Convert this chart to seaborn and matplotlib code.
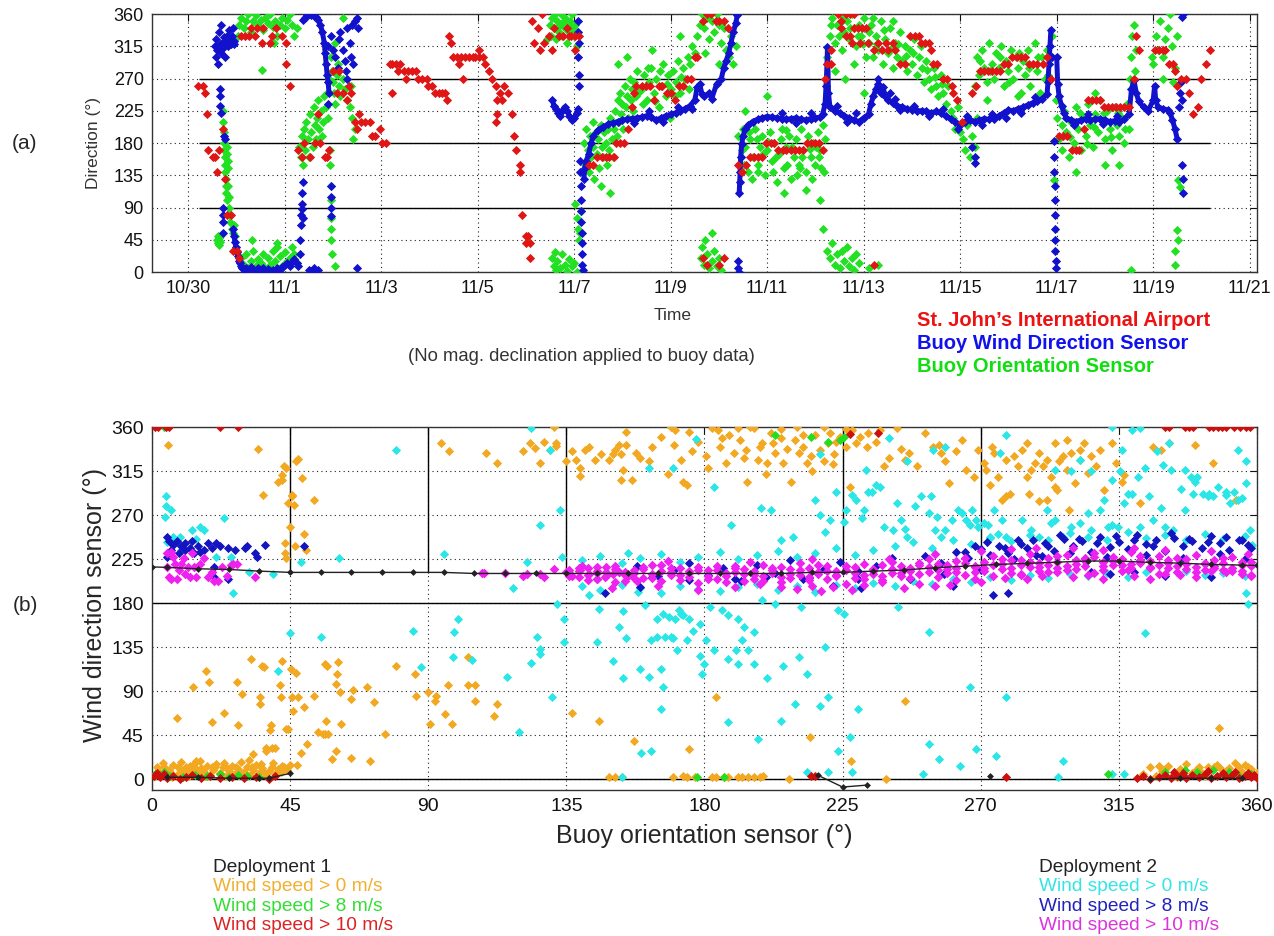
import matplotlib
matplotlib.use("Agg")
import matplotlib.pyplot as plt
import pandas as pd
import seaborn as sns

sns.set_style("white")
plt.rcParams["font.family"] = ["Liberation Sans", "DejaVu Sans"]

# ---------------- panel (a): direction time series, x = days since 10/30 ----------------
day_ticks = [0, 2, 4, 6, 8, 10, 12, 14, 16, 18, 20, 22]
day_labels = ["10/30", "11/1", "11/3", "11/5", "11/7", "11/9", "11/11", "11/13",
              "11/15", "11/17", "11/19", "11/21"]
dir_ticks = [0, 45, 90, 135, 180, 225, 270, 315, 360]

# buoy wind direction sensor, continuous runs
buoy_runs = [
    [(0.93, 60), (0.95, 50), (0.97, 42), (0.99, 35), (1.01, 28), (1.03, 22), (1.05, 15), (1.07, 12),
     (1.09, 8), (1.12, 5), (1.15, 4), (1.2, 6), (1.25, 3), (1.3, 7), (1.35, 4), (1.4, 2), (1.45, 5),
     (1.5, 3), (1.55, 6), (1.6, 2), (1.65, 4), (1.7, 1), (1.75, 3), (1.8, 2), (1.85, 5), (1.9, 3),
     (1.95, 7), (2.0, 10), (2.05, 12), (2.1, 9), (2.15, 14), (2.2, 18), (2.25, 12), (2.28, 8)],
    [(2.38, 352), (2.42, 355), (2.46, 358), (2.5, 360), (2.55, 359), (2.6, 357), (2.65, 356),
     (2.7, 352), (2.74, 345), (2.78, 335), (2.82, 320), (2.84, 305), (2.86, 290), (2.88, 275),
     (2.9, 265), (2.92, 250)],
    [(7.55, 240), (7.58, 232), (7.62, 228), (7.66, 222), (7.7, 218), (7.75, 225), (7.8, 230),
     (7.85, 225), (7.9, 218), (7.95, 212), (8.0, 215), (8.05, 222), (8.08, 228)],
    [(8.2, 130), (8.22, 145), (8.25, 155), (8.3, 165), (8.35, 180), (8.4, 190), (8.5, 198),
     (8.6, 203), (8.7, 206), (8.8, 208), (8.9, 210), (9.0, 212), (9.1, 213), (9.2, 214), (9.3, 215),
     (9.4, 216), (9.5, 218), (9.6, 216), (9.7, 212), (9.8, 215), (9.9, 218), (10.0, 220),
     (10.1, 222), (10.2, 225), (10.3, 228), (10.4, 232), (10.5, 240), (10.55, 258), (10.6, 262),
     (10.65, 248), (10.7, 245), (10.8, 250), (10.85, 242), (10.95, 262), (11.05, 270), (11.1, 285),
     (11.15, 295), (11.2, 305), (11.25, 320), (11.3, 335), (11.35, 348), (11.38, 358)],
    [(11.42, 110), (11.43, 125), (11.44, 140), (11.45, 160), (11.47, 178), (11.5, 190),
     (11.55, 200), (11.6, 205), (11.7, 210), (11.8, 213), (11.9, 215), (12.0, 217), (12.1, 216),
     (12.2, 215), (12.3, 214), (12.4, 213), (12.5, 214), (12.6, 215), (12.7, 213), (12.8, 212),
     (12.9, 214), (13.0, 215), (13.1, 216), (13.15, 220), (13.2, 235), (13.22, 260), (13.24, 290),
     (13.25, 314), (13.27, 250), (13.3, 230), (13.4, 225), (13.5, 222), (13.6, 218), (13.7, 215),
     (13.8, 212), (13.9, 210), (14.0, 215), (14.1, 220), (14.15, 235), (14.2, 245), (14.25, 255),
     (14.3, 262), (14.35, 250), (14.4, 258), (14.45, 245), (14.5, 240), (14.6, 236), (14.7, 232),
     (14.8, 230), (14.9, 228), (15.0, 226), (15.1, 225), (15.2, 225), (15.3, 224), (15.4, 222),
     (15.5, 224), (15.6, 222), (15.7, 218), (15.8, 214), (15.9, 210), (16.0, 205), (16.1, 210),
     (16.2, 212), (16.3, 210), (16.4, 212), (16.5, 214), (16.6, 213), (16.7, 214), (16.8, 218),
     (16.9, 222), (17.0, 226), (17.1, 225), (17.2, 228), (17.3, 230), (17.4, 233), (17.5, 236),
     (17.6, 238), (17.7, 242), (17.8, 248), (17.82, 265), (17.84, 290), (17.86, 315), (17.88, 338)],
    [(18.0, 300), (18.02, 263), (18.05, 245), (18.1, 232), (18.15, 222), (18.2, 215), (18.3, 212),
     (18.4, 210), (18.5, 212), (18.6, 214), (18.7, 212), (18.8, 213), (18.9, 214), (19.0, 212),
     (19.1, 210), (19.2, 211), (19.3, 210), (19.4, 213), (19.5, 220), (19.55, 255), (19.6, 268),
     (19.65, 250), (19.7, 238), (19.8, 230), (19.9, 225), (20.0, 240), (20.03, 260), (20.05, 240),
     (20.1, 230), (20.2, 228), (20.3, 226), (20.35, 222), (20.4, 212), (20.45, 200), (20.5, 185)],
]

# buoy wind direction sensor, isolated and noisy samples
buoy_points = [
    (0.55, 315), (0.57, 300), (0.58, 325), (0.60, 310), (0.62, 290), (0.63, 335), (0.65, 318),
    (0.67, 305), (0.68, 345), (0.70, 320), (0.72, 312), (0.74, 328), (0.76, 300), (0.78, 322),
    (0.80, 330), (0.82, 315), (0.84, 338), (0.86, 325), (0.88, 318), (0.90, 330), (0.92, 340),
    (0.94, 322), (0.96, 318), (0.66, 255), (0.66, 245), (0.65, 232), (0.67, 222), (0.72, 90),
    (0.72, 80), (0.73, 70), (0.73, 55), (0.75, 190), (0.76, 185),
    (2.31, 25), (2.32, 45), (2.33, 65), (2.34, 80), (2.35, 95), (2.36, 110), (2.37, 125),
    (2.36, 88), (2.38, 75), (2.5, 3), (2.55, 2), (2.6, 5), (2.65, 1), (2.7, 3), (2.9, 235),
    (2.95, 120), (2.95, 105), (2.96, 90), (2.96, 78),
    (2.9, 315), (2.95, 330), (3.0, 310), (3.05, 300), (3.1, 285), (3.12, 325), (3.15, 335),
    (3.2, 310), (3.25, 295), (3.28, 280), (3.3, 340), (3.35, 320), (3.4, 345), (3.45, 350),
    (3.5, 355), (3.52, 340), (3.38, 300), (3.42, 290), (3.3, 270), (3.5, 5),
    (8.07, 350), (8.08, 335), (8.09, 320), (8.08, 300), (8.1, 275), (8.1, 260), (8.12, 155),
    (8.13, 140), (8.14, 120), (8.14, 100), (8.15, 85), (8.15, 70), (8.16, 55), (8.16, 40),
    (8.17, 25), (8.17, 10), (8.18, 3),
    (11.4, 15), (11.4, 5), (11.41, 0), (16.25, 175), (16.3, 160), (16.3, 152),
    (17.9, 300), (17.95, 183), (17.95, 160), (17.95, 140), (17.96, 120), (17.96, 100),
    (17.96, 80), (17.97, 60), (17.97, 45), (17.97, 30), (17.98, 15), (17.98, 5),
    (20.53, 230), (20.55, 250), (20.57, 265), (20.6, 240), (20.6, 150), (20.61, 130),
    (20.62, 110), (20.6, 356), (20.61, 360),
    (12.3, 222), (12.6, 208), (12.9, 222), (13.45, 232), (13.65, 210), (13.85, 222),
    (14.3, 270), (14.4, 248), (14.55, 250), (14.65, 242), (14.75, 226), (15.05, 232),
    (15.35, 218), (15.65, 228), (15.95, 200), (16.15, 218), (16.45, 205), (16.65, 220),
    (16.95, 215), (17.25, 222), (17.55, 244), (18.35, 205), (18.65, 220), (18.95, 206),
    (19.25, 218), (9.25, 208), (9.55, 224), (9.85, 210), (10.15, 230), (10.45, 228),
]

# buoy orientation sensor
orientation_points = [
    (0.6, 45), (0.61, 40), (0.62, 50), (0.63, 38), (0.64, 48), (0.66, 42), (0.68, 52),
    (0.72, 225), (0.73, 210), (0.74, 195), (0.74, 180), (0.75, 170), (0.76, 160), (0.76, 150),
    (0.77, 140), (0.78, 130), (0.78, 120), (0.79, 110), (0.8, 100), (0.8, 175), (0.81, 165),
    (0.82, 155), (0.82, 145), (0.83, 120), (0.84, 105), (0.85, 90), (0.86, 80), (0.87, 70),
    (0.9, 60), (0.92, 55), (0.95, 65), (0.98, 50),
    (1.1, 20), (1.15, 10), (1.2, 25), (1.25, 5), (1.3, 15), (1.35, 30), (1.4, 8), (1.45, 18),
    (1.5, 12), (1.55, 25), (1.6, 5), (1.65, 20), (1.7, 10), (1.75, 30), (1.8, 15), (1.85, 35),
    (1.9, 22), (1.95, 8), (2.0, 28), (2.05, 15), (2.1, 20), (2.15, 35), (2.2, 25), (2.25, 12),
    (1.33, 45), (1.85, 40),
    (1.05, 345), (1.1, 355), (1.15, 340), (1.2, 350), (1.25, 360), (1.3, 335), (1.35, 350),
    (1.4, 358), (1.45, 345), (1.5, 352), (1.55, 338), (1.6, 355), (1.65, 348), (1.7, 360),
    (1.75, 342), (1.8, 350), (1.85, 330), (1.9, 345), (1.95, 355), (2.0, 340), (2.05, 352),
    (2.1, 360), (2.15, 345), (2.2, 330), (2.25, 340), (1.78, 320), (1.03, 330), (1.52, 282),
    (2.3, 175), (2.33, 160), (2.35, 190), (2.38, 150), (2.4, 200), (2.42, 170), (2.45, 210),
    (2.48, 185), (2.5, 160), (2.52, 220), (2.55, 195), (2.58, 175), (2.6, 230), (2.62, 205),
    (2.65, 185), (2.68, 215), (2.7, 240), (2.72, 200), (2.75, 225), (2.78, 190), (2.8, 210),
    (2.82, 245), (2.85, 230), (2.88, 250), (2.9, 215), (2.92, 270),
    (2.95, 300), (2.98, 280), (3.0, 265), (3.02, 250), (3.05, 235), (3.08, 275), (3.1, 290),
    (3.12, 260), (3.15, 245), (3.2, 270), (3.25, 255), (3.3, 240), (3.35, 230), (3.4, 215),
    (3.45, 200), (3.42, 185), (3.38, 260), (3.2, 355), (3.05, 320),
    (2.93, 170), (2.94, 150), (2.95, 120), (2.95, 100), (2.96, 75), (2.96, 60), (2.97, 45),
    (2.98, 25), (3.05, 8),
    (7.5, 345), (7.52, 330), (7.55, 355), (7.58, 340), (7.6, 360), (7.62, 325), (7.65, 350),
    (7.68, 335), (7.7, 345), (7.72, 360), (7.75, 330), (7.78, 350), (7.8, 340), (7.82, 355),
    (7.85, 320), (7.88, 345), (7.9, 335), (7.92, 350), (7.95, 360), (7.98, 340), (8.0, 330),
    (8.02, 345), (8.05, 315), (7.43, 325),
    (7.55, 20), (7.58, 8), (7.6, 28), (7.62, 3), (7.65, 15), (7.7, 5), (7.75, 25), (7.8, 10),
    (7.85, 2), (7.9, 18), (7.95, 8), (8.0, 12), (8.05, 0),
    (8.02, 95), (8.05, 75), (8.08, 60), (8.1, 45), (8.12, 55), (8.15, 85),
    (8.2, 180), (8.22, 150), (8.25, 200), (8.28, 170), (8.3, 140), (8.32, 190), (8.35, 160),
    (8.38, 210), (8.4, 175), (8.42, 130), (8.45, 195), (8.48, 165), (8.5, 185), (8.52, 145),
    (8.55, 205), (8.58, 175), (8.6, 160), (8.62, 195), (8.65, 180), (8.68, 150), (8.7, 200),
    (8.72, 170), (8.75, 215), (8.78, 185), (8.8, 160), (8.82, 200), (8.85, 225), (8.88, 190),
    (8.9, 240), (8.92, 210), (8.95, 250), (8.98, 220), (9.0, 235), (9.02, 200), (9.05, 260),
    (9.08, 230), (9.1, 245), (9.12, 215), (9.15, 270), (9.18, 240), (9.2, 255), (9.22, 225),
    (9.25, 265), (9.28, 245), (9.3, 280), (9.32, 250), (8.55, 120), (8.9, 290), (8.75, 110),
    (9.1, 300),
    (9.4, 255), (9.45, 275), (9.5, 240), (9.55, 265), (9.6, 285), (9.65, 250), (9.7, 270),
    (9.75, 230), (9.8, 260), (9.85, 290), (9.9, 245), (9.95, 275), (10.0, 255), (10.05, 280),
    (10.1, 265), (10.15, 295), (10.2, 250), (10.25, 285), (10.3, 270), (10.35, 300), (10.4, 290),
    (10.45, 315), (10.5, 305), (9.62, 310), (9.98, 215), (10.2, 330),
    (9.42, 235), (9.52, 285), (9.68, 238), (9.78, 280), (9.92, 262), (10.08, 245), (10.22, 272),
    (10.38, 255),
    (10.55, 330), (10.6, 345), (10.65, 360), (10.7, 340), (10.75, 355), (10.8, 325), (10.85, 350),
    (10.9, 335), (10.95, 360), (11.0, 345), (11.05, 320), (11.1, 340), (11.15, 310), (11.2, 300),
    (11.25, 330), (11.3, 290), (11.35, 315), (10.72, 305), (11.0, 290),
    (10.62, 20), (10.65, 35), (10.7, 10), (10.72, 45), (10.75, 25), (10.8, 5), (10.85, 15),
    (10.9, 30), (10.95, 8), (11.0, 20), (11.05, 3), (10.85, 55),
    (11.4, 190), (11.45, 160), (11.5, 200), (11.55, 175), (11.6, 140), (11.65, 185), (11.7, 160),
    (11.75, 200), (11.8, 150), (11.85, 175), (11.9, 190), (11.95, 135), (12.0, 170), (12.05, 195),
    (12.1, 155), (12.15, 180), (12.2, 125), (12.25, 165), (12.3, 200), (12.35, 145), (12.4, 175),
    (12.45, 190), (12.5, 130), (12.55, 160), (12.6, 185), (12.65, 150), (12.7, 200), (12.75, 170),
    (12.8, 140), (12.85, 190), (12.9, 160), (12.95, 180), (13.0, 150), (13.05, 195), (13.1, 170),
    (13.15, 205), (13.2, 185), (11.55, 225), (12.0, 245), (12.8, 115), (12.35, 110), (13.1, 100),
    (11.52, 150), (11.68, 130), (11.92, 165), (12.12, 140), (12.42, 150), (12.62, 135),
    (12.92, 130), (13.12, 145), (11.78, 185), (12.28, 185), (12.72, 160), (13.02, 175),
    (11.48, 170), (11.62, 195), (11.82, 140), (12.02, 182), (12.18, 160), (12.38, 198),
    (12.52, 175), (12.68, 145), (12.88, 172), (13.08, 160), (13.18, 140),
    (13.25, 300), (13.3, 330), (13.35, 355), (13.4, 320), (13.45, 345), (13.5, 360), (13.55, 310),
    (13.6, 335), (13.65, 350), (13.7, 325), (13.75, 360), (13.8, 340), (13.85, 315), (13.9, 345),
    (13.95, 330), (14.0, 355), (14.05, 300), (13.4, 280), (13.8, 290), (13.62, 270),
    (13.32, 345), (13.48, 330), (13.58, 352), (13.72, 340), (13.88, 330), (13.98, 318),
    (13.3, 20), (13.35, 40), (13.4, 10), (13.45, 25), (13.5, 5), (13.55, 30), (13.6, 15),
    (13.65, 35), (13.7, 8), (13.75, 20), (13.8, 3), (13.85, 25), (13.9, 12), (14.1, 5),
    (14.3, 10), (13.15, 60), (13.25, 30),
    (14.1, 320), (14.15, 345), (14.2, 300), (14.25, 330), (14.3, 310), (14.35, 350), (14.4, 290),
    (14.45, 325), (14.5, 305), (14.55, 340), (14.6, 285), (14.65, 320), (14.7, 300), (14.75, 335),
    (14.8, 295), (14.85, 315), (14.9, 280), (14.95, 310), (15.0, 290), (15.05, 325), (15.1, 275),
    (15.15, 300), (15.2, 285), (15.25, 265), (15.3, 295), (15.35, 270), (15.4, 255), (15.45, 285),
    (15.5, 260), (15.55, 245), (15.6, 275), (15.65, 250), (15.7, 235), (15.75, 260), (15.8, 225),
    (14.2, 355), (14.6, 350), (14.0, 250),
    (14.12, 335), (14.28, 318), (14.42, 338), (14.58, 312), (14.72, 318), (14.88, 302),
    (15.02, 305), (15.18, 315), (15.32, 282), (15.48, 272), (15.62, 262),
    (15.85, 215), (15.9, 200), (15.95, 230), (16.0, 195), (16.05, 185), (16.1, 170),
    (16.15, 205), (16.2, 160), (16.25, 190), (16.3, 175), (16.35, 215),
    (16.3, 260), (16.35, 300), (16.4, 275), (16.45, 310), (16.5, 285), (16.55, 265), (16.6, 320),
    (16.65, 290), (16.7, 270), (16.75, 305), (16.8, 285), (16.85, 315), (16.9, 260), (16.95, 295),
    (17.0, 280), (17.05, 310), (17.1, 270), (17.15, 300), (17.2, 285), (17.25, 250), (17.3, 295),
    (17.35, 275), (17.4, 310), (17.45, 260), (17.5, 290), (17.55, 320), (17.6, 280), (17.65, 250),
    (17.7, 300), (17.75, 270), (17.8, 310), (17.85, 290), (17.9, 330), (16.55, 240), (17.2, 245),
    (16.42, 295), (16.62, 280), (16.82, 300), (17.02, 265), (17.22, 305), (17.42, 285),
    (17.62, 300), (17.82, 275),
    (17.98, 240), (18.0, 215), (18.05, 185), (18.1, 170), (18.15, 225), (18.2, 195), (18.25, 160),
    (18.3, 210), (18.35, 180), (18.4, 230), (18.45, 200), (18.5, 170), (18.55, 215), (18.6, 190),
    (18.65, 235), (18.7, 205), (18.75, 175), (18.8, 220), (18.85, 195), (18.9, 240), (18.95, 210),
    (19.0, 185), (19.05, 225), (19.1, 200), (19.15, 170), (19.2, 230), (19.25, 205), (19.3, 190),
    (19.35, 215), (19.4, 180), (19.45, 235), (19.5, 200), (18.4, 140), (17.95, 128), (19.3, 150),
    (18.8, 250), (19.0, 150),
    (18.12, 205), (18.28, 188), (18.48, 222), (18.62, 178), (18.78, 202), (18.98, 222),
    (19.12, 188), (19.28, 222), (19.42, 200),
    (19.52, 270), (19.55, 300), (19.57, 330), (19.6, 345), (19.62, 280), (19.65, 310), (19.55, 3),
    (20.0, 290), (20.05, 330), (20.1, 310), (20.15, 350), (20.2, 300), (20.25, 325), (20.3, 340),
    (20.35, 360), (20.4, 315), (20.45, 285), (20.5, 330), (20.2, 270), (20.42, 265), (19.97, 300),
    (20.52, 128), (20.55, 119), (20.5, 59), (20.52, 45), (20.45, 30), (20.45, 10),
]

# St. John's airport reports
airport_points = [
    (0.21, 260), (0.30, 260), (0.34, 250), (0.38, 220), (0.42, 170), (0.51, 160), (0.55, 160),
    (0.59, 140), (0.63, 170), (0.72, 200), (0.76, 130), (0.80, 80), (0.89, 80), (0.93, 30),
    (1.01, 30), (1.05, 20),
    (1.10, 330), (1.18, 330), (1.27, 330), (1.31, 340), (1.39, 330), (1.43, 340), (1.52, 320),
    (1.56, 340), (1.69, 320), (1.73, 330), (1.81, 340), (1.94, 330), (2.03, 320), (2.03, 290),
    (2.11, 260),
    (2.28, 170), (2.36, 160), (2.41, 180), (2.53, 160), (2.62, 180), (2.70, 220), (2.74, 180),
    (2.83, 160), (2.87, 160), (2.91, 170),
    (3.0, 280), (3.08, 250), (3.12, 280), (3.21, 250), (3.29, 240), (3.33, 260), (3.38, 250),
    (3.46, 210), (3.5, 200), (3.54, 220), (3.59, 210), (3.67, 210), (3.76, 210), (3.8, 190),
    (3.88, 190), (3.97, 200), (4.01, 180), (4.09, 180),
    (4.18, 290), (4.22, 290), (4.3, 290), (4.39, 290), (4.22, 250), (4.35, 280), (4.47, 280),
    (4.56, 280), (4.64, 280), (4.73, 280), (4.51, 270), (4.77, 270), (4.85, 270), (4.94, 270),
    (4.98, 260), (5.06, 260), (5.11, 250), (5.19, 250), (5.27, 250), (5.32, 250), (5.36, 240),
    (5.4, 330), (5.44, 320), (5.49, 300), (5.57, 300), (5.61, 290), (5.65, 300), (5.74, 300),
    (5.82, 300), (5.91, 300), (5.95, 300), (6.03, 300), (6.12, 300), (6.16, 290), (6.03, 310),
    (5.7, 270), (6.24, 280), (6.29, 270), (6.37, 260), (6.41, 240), (6.46, 250), (6.5, 240),
    (6.54, 260), (6.62, 250), (6.71, 220), (6.37, 210), (6.41, 220),
    (6.75, 190), (6.79, 170), (6.88, 150), (6.88, 140), (6.92, 80), (7.0, 50), (7.05, 50),
    (7.0, 40), (7.09, 40), (7.09, 20),
    (7.13, 350), (7.17, 320), (7.26, 340), (7.3, 310), (7.34, 360), (7.38, 320), (7.47, 330),
    (7.55, 310), (7.59, 340), (7.68, 330), (7.76, 330), (7.85, 340), (7.89, 330), (7.93, 330),
    (8.02, 330), (8.1, 330), (8.02, 310),
    (8.31, 150), (8.4, 150), (8.48, 160), (8.57, 160), (8.65, 160), (8.73, 160), (8.82, 160),
    (8.86, 180), (8.95, 180), (9.03, 180), (9.11, 200), (9.2, 230), (9.24, 250), (9.28, 260),
    (9.41, 260), (9.49, 260), (9.58, 260), (9.66, 240), (9.75, 260), (9.83, 260), (9.92, 250),
    (10.0, 250), (10.08, 240), (10.17, 260), (10.25, 260), (10.34, 270), (10.42, 270),
    (10.51, 300), (10.55, 300), (10.67, 350), (10.76, 360), (10.84, 360), (10.93, 350),
    (11.01, 350), (11.1, 350), (11.18, 340),
    (10.67, 20), (10.76, 10), (11.01, 10), (11.1, 20),
    (11.39, 150), (11.48, 140), (11.56, 150), (11.64, 160), (11.73, 160), (11.81, 160),
    (11.9, 160), (11.98, 180), (12.07, 180), (12.15, 180), (12.23, 170), (12.32, 170),
    (12.4, 170), (12.49, 170), (12.57, 170), (12.66, 170), (12.74, 170), (12.82, 180),
    (12.91, 180), (12.99, 180), (13.08, 180), (13.16, 170),
    (13.2, 270), (13.25, 290), (13.33, 290), (13.33, 310), (13.46, 360), (13.54, 350),
    (13.63, 360), (13.71, 360), (13.79, 360), (13.54, 340), (13.63, 330), (13.71, 330),
    (13.79, 340), (13.88, 340), (13.96, 340), (14.05, 340), (13.75, 320), (13.92, 320),
    (14.22, 10),
    (14.09, 320), (14.22, 310), (14.3, 320), (14.38, 310), (14.47, 320), (14.51, 310), (14.6, 320),
    (14.64, 310), (14.76, 290), (14.85, 290), (14.97, 330), (15.06, 330), (15.14, 330),
    (15.19, 320), (15.27, 320), (15.35, 320), (15.4, 310), (15.44, 290), (15.52, 290),
    (15.65, 270), (15.73, 270), (15.82, 260), (15.86, 250), (15.94, 240), (16.03, 210),
    (16.24, 250), (16.32, 260), (16.41, 280), (16.49, 280), (16.58, 280), (16.66, 280),
    (16.75, 280), (16.83, 280), (16.91, 290), (17.0, 290), (17.08, 300), (17.17, 300),
    (17.25, 300), (17.34, 300), (17.42, 290), (17.5, 290), (17.59, 290), (17.71, 290),
    (17.8, 300), (17.88, 270),
    (18.05, 190), (18.14, 190), (18.22, 190), (18.31, 170), (18.39, 170), (18.47, 170),
    (18.56, 200), (18.64, 240), (18.73, 240), (18.81, 240), (18.9, 240), (18.98, 230),
    (19.06, 230), (19.15, 230), (19.23, 230), (19.32, 230), (19.4, 230), (19.49, 230),
    (19.61, 270), (19.65, 330), (19.7, 310),
    (20.03, 310), (20.12, 310), (20.2, 310), (20.24, 310), (20.33, 290), (20.41, 290),
    (20.46, 280), (20.5, 260), (20.58, 270), (20.67, 270), (20.75, 250), (20.83, 220),
    (20.92, 230), (21.0, 270), (21.09, 290), (21.17, 310),
]

reference_levels = [90, 180, 270]

# ---------------- panel (b): wind direction vs orientation ----------------
orient_ticks = [0, 45, 90, 135, 180, 225, 270, 315, 360]

d1_all = [
    (1, 3), (2, 8), (3, 5), (4, 12), (5, 2), (6, 7), (7, 15), (8, 4), (9, 10), (10, 6), (11, 13),
    (12, 3), (13, 9), (14, 17), (15, 5), (16, 11), (17, 7), (18, 14), (19, 4), (20, 9), (21, 16),
    (22, 6), (23, 12), (24, 3), (25, 8), (26, 14), (27, 5), (28, 10), (29, 18), (30, 7), (31, 12),
    (32, 4), (33, 9), (34, 15), (35, 6), (36, 11), (37, 3), (38, 8), (39, 13), (40, 5), (41, 10),
    (42, 7), (43, 12), (44, 9), (1.5, 12), (3.5, 17), (6.5, 2), (9.5, 18), (12.5, 14), (15.5, 19),
    (19.5, 13), (23.5, 17), (27.5, 13), (31.5, 20), (35.5, 16), (2.5, 6), (5.5, 9), (8.5, 13),
    (11.5, 8), (14.5, 10), (17.5, 3), (20.5, 12), (24.5, 11), (28.5, 4), (32.5, 13), (36.5, 7),
    (39.5, 17), (42.5, 14), (45, 15), (33, 26), (37, 29),
    (8, 63), (13.3, 94), (14.3, 19), (17.6, 111), (18.5, 99), (19.6, 58), (23.3, 68), (27.6, 99),
    (27.9, 55), (29.2, 87), (32.4, 123), (35.1, 84), (35.1, 77), (35.9, 116), (36.4, 115),
    (38.3, 50), (38.7, 55), (37, 32), (39, 32), (40, 32), (41.7, 96), (42, 84), (42.3, 121),
    (43.6, 51), (44.4, 51), (45.2, 113), (45.7, 84), (46, 70), (46.9, 109), (47.3, 15), (47.6, 84),
    (48.7, 27), (49.6, 74), (50.5, 36), (52.9, 85), (56.3, 118), (57, 116), (56.3, 46),
    (56.7, 60), (57.5, 46), (58.8, 21), (59.9, 29), (59.9, 97), (60.3, 108), (60.7, 120),
    (61.3, 89), (61.7, 56), (65, 22), (65, 82), (65.5, 91), (69.9, 94), (70.9, 19), (72.3, 79),
    (75.9, 46), (79.6, 116), (86, 85), (85.6, 108), (90, 89), (90.7, 56), (92.3, 80), (92.6, 85),
    (95.6, 67), (96.5, 96), (97.6, 56), (102.9, 125), (102.9, 96), (105.3, 96), (105.3, 80),
    (111.3, 65), (112.4, 77), (137, 68), (145.6, 60), (55.6, 46), (54, 48),
    (36.3, 291), (42.3, 311), (42.9, 320), (43.6, 318), (41, 304), (42.3, 306), (44.3, 282),
    (45.6, 291), (45, 258), (46.9, 325), (47.6, 327), (48.9, 308), (49.6, 251), (52.9, 285),
    (45.7, 289), (46.3, 280), (43.2, 241), (43.2, 231), (43.6, 226), (34.7, 338), (5.3, 342),
    (50.3, 234), (46.5, 238),
    (94, 344), (96.9, 335), (108.9, 333), (112.3, 323), (121, 335), (123, 344), (124.9, 339),
    (126.3, 323), (127.6, 345), (129.6, 337), (130.9, 360), (131.6, 341), (131.6, 344), (135, 325),
    (137, 335), (138.3, 326), (139.6, 318), (139.6, 310), (141, 337), (142.3, 340), (144.3, 326),
    (146.3, 332), (148.9, 326), (150.3, 332), (150.9, 337), (152.3, 342), (152.9, 332),
    (153.6, 316), (154.3, 342), (152.9, 306), (156.3, 306), (154.3, 355), (157.6, 333), (159, 328),
    (161.9, 325), (169.1, 360), (170.5, 357), (172.5, 326), (173.1, 304), (174.4, 301),
    (180.4, 330), (182.4, 359), (184.4, 357), (185.7, 349), (187, 323), (189.7, 333), (191, 359),
    (191.6, 347), (193.6, 337), (193.9, 304), (196.3, 359), (197.6, 326), (198.9, 344),
    (200.3, 323), (201.6, 354), (202.2, 344), (202.9, 333), (204.9, 349), (205.5, 323),
    (208.2, 304), (209.5, 347), (210.8, 333), (212.2, 340), (213.5, 323), (214.8, 330),
    (216.1, 352), (217.5, 337), (218.8, 325), (220.1, 344), (220.8, 354), (222.1, 332),
    (224.1, 350), (226.1, 340), (227.4, 299), (228.1, 357), (229.4, 344), (230.7, 350),
    (233.3, 354), (237.3, 357), (238.6, 320), (242.6, 359), (243.9, 338), (245.3, 326),
    (246.6, 333), (249.2, 320), (251.9, 354), (254.5, 340), (256.5, 342), (257.2, 333),
    (258.5, 325), (259.8, 303), (261.8, 335), (263.8, 347), (265.1, 316), (267.8, 309),
    (269.1, 337), (271.1, 323), (271.7, 316), (273.1, 301), (274.4, 333), (275.7, 309), (277, 285),
    (278.3, 326), (279.7, 292), (281, 330), (282.3, 320), (283.6, 337), (285, 309), (286.3, 316),
    (287.6, 323), (289, 333), (290.3, 320), (291.6, 326), (292.9, 309), (294.2, 344),
    (294.9, 296), (295.6, 325), (296.9, 330), (298.2, 316), (299.5, 333), (300.8, 303),
    (302.2, 326), (303.5, 344), (304.8, 313), (306.1, 330), (307.5, 320), (308.8, 337),
    (310.1, 296), (312.8, 344), (314.1, 323), (316.1, 304), (316.7, 311), (322, 282), (326, 340),
    (328.6, 337), (331.3, 344), (339.9, 342), (345.8, 323), (353.1, 285), (285.6, 292),
    (294.2, 299), (288.9, 284), (278.3, 289), (298.9, 275), (291.6, 285), (273.7, 340),
    (285, 344), (298.2, 347), (302.2, 337),
    (175, 355), (178, 345), (188, 352), (195, 360), (198, 340), (205, 358), (212, 352), (219, 360),
    (223, 345), (210, 360), (185, 340), (166, 350), (170, 342), (193, 328), (200, 312), (207, 338),
    (215, 315), (222, 322), (233, 340), (226, 358), (236, 345), (240, 328), (181, 318), (176, 335),
    (163, 340), (168, 312),
    (169.8, 2), (173.1, 3), (174.4, 2), (177, 2), (182.3, 2), (183.6, 2), (186.3, 2), (187.6, 2),
    (190.9, 2), (192.3, 2), (194.2, 2), (196.1, 2), (198, 2), (199.2, 3), (207.6, 0), (239.3, 0),
    (149, 2), (151, 2), (153, 2), (157, 39), (175.1, 31), (183.7, 84), (214.5, 43), (227.6, 19),
    (245.5, 80), (347.8, 52),
    (323, 5), (325, 12), (327, 3), (329, 8), (331, 14), (333, 5), (335, 10), (337, 16), (339, 6),
    (341, 12), (343, 3), (345, 9), (347, 15), (349, 5), (351, 11), (353, 17), (355, 7), (357, 13),
    (359, 4), (328, 14), (334, 2), (340, 9), (346, 13), (352, 4), (358, 10), (336, 6), (344, 12),
    (350, 8), (356, 15), (330, 10), (342, 6), (348, 11), (354, 12), (360, 6),
]

d1_gt8 = [
    (1, 5), (3, 4), (4, 7), (6, 3), (10, 2), (14, 4), (18, 3), (22, 5), (25, 2), (28, 4), (31, 3),
    (35, 2), (4, 360), (202.9, 352), (214.8, 350), (224.1, 347), (225.4, 350), (220.1, 345),
    (186.4, 2), (177.7, 2), (311.4, 5), (330, 7), (336.6, 9), (340.6, 7), (345.8, 9), (351, 7),
    (353.6, 5), (358.2, 5),
]

d1_gt10 = [
    (0.5, 3), (1.5, 6), (2.5, 2), (4, 5), (5, 1), (7, 3), (9, 0), (11, 2), (13, 4), (16, 1),
    (19, 3), (22, 1), (26, 2), (30, 1), (34, 2), (38, 0), (40, 3),
    (1, 360), (2, 360), (4.5, 360), (5.5, 360), (22, 360), (28, 360), (227.4, 353), (236.6, 354),
    (214.8, 3), (216.1, 3), (278.3, 2),
    (321, 1), (323, 3), (325, 0), (328, 2), (330, 4), (332, 1), (334, 3), (336, 6), (337, 1),
    (339, 4), (341, 2), (343, 5), (345, 1), (347, 3), (349, 6), (350, 2), (352, 4), (354, 1),
    (356, 3), (357, 6), (358, 2), (359, 4), (360, 1), (333, 7), (344, 8), (353, 7),
    (330, 360), (331.3, 360), (336.6, 360), (338, 360), (339.2, 360), (344.5, 360), (345.8, 360),
    (347.2, 360), (348.5, 360), (349.8, 360), (352.5, 360), (354.5, 360), (356.4, 360),
    (357.8, 360),
]

d2_all = [
    (4.7, 289), (4.7, 279), (4.3, 268), (6.3, 275), (7, 248), (5, 242), (9, 248), (13, 255),
    (15.6, 258), (17, 255), (23.6, 267), (14.3, 246), (9.6, 234), (20.9, 227), (26.3, 190),
    (25.6, 227), (31.6, 212), (39.3, 210), (48.7, 222), (45, 149), (41, 111), (55, 145), (61, 226),
    (79.6, 337), (85, 151), (87.6, 115), (95, 230), (98.3, 150), (99.6, 164), (98, 125),
    (104.3, 122), (115.6, 104), (117.6, 195), (119.6, 48), (123.6, 119), (125.6, 145),
    (126.3, 128), (126.3, 133), (126.3, 260), (130.3, 84), (132, 179), (133, 275), (129.6, 337),
    (123.6, 359), (133.5, 227), (134.3, 164), (134.3, 140), (122.3, 222), (142.3, 188), (145, 140),
    (145.6, 174), (150.3, 121), (152.3, 156), (153.6, 103), (153.6, 172), (154.3, 144), (155, 231),
    (158.3, 191), (159, 113), (159.3, 27), (153, 2),
    (160.5, 178), (164.5, 164), (166.5, 169), (168.5, 166), (169.1, 145), (170.5, 164),
    (171.8, 173), (172.5, 169), (173.1, 168), (175.1, 164), (178.4, 159), (164.5, 145),
    (167.2, 145), (169.8, 144), (162.5, 142), (171.1, 132), (174.4, 142), (176.4, 152),
    (178.4, 126), (180.4, 142), (183, 132), (181.7, 176), (185.7, 173), (187.7, 168), (191, 164),
    (193, 156), (192.3, 142), (187.7, 123), (191, 118), (190.3, 132), (194.3, 132), (196.3, 150),
    (198.9, 183), (202.9, 179), (211.5, 176), (196.3, 118), (200.3, 103), (205.5, 116),
    (210.8, 125), (213.5, 108), (219.4, 135), (223.4, 173), (225.4, 169), (165.8, 113),
    (166.5, 94), (162.5, 29), (165.8, 72), (179.1, 108), (179.7, 118), (161.9, 104), (187.7, 58),
    (197.6, 41), (204.9, 60), (209.5, 77), (217.5, 75), (220.1, 84), (230, 72), (227.4, 43),
    (223.4, 29), (213.5, 7), (220.1, 7), (228, 7), (253.2, 150), (253.2, 36), (256.5, 21),
    (263.1, 14), (251.2, 5), (266.4, 94), (268.4, 31), (275, 24), (278.3, 84), (296.9, 19),
    (295.3, 2), (323.6, 149), (357.1, 179), (356.4, 190), (316.7, 5), (312.8, 5), (242.9, 176),
    (183, 299), (188.6, 260), (198.3, 277), (201.6, 275), (204.9, 244), (208.9, 248), (216.1, 285),
    (217.5, 270), (219.4, 253), (220.8, 265), (222.8, 294), (225.4, 263), (226.1, 275),
    (228, 291), (229.4, 285), (231.4, 267), (232, 275), (233.3, 294), (234.7, 294), (236, 301),
    (237.3, 299), (238.6, 258), (241.3, 255), (242.6, 282), (243.9, 265), (245.3, 256),
    (245.9, 248), (248.6, 279), (250.5, 289), (253.2, 272), (253.9, 289), (255.2, 255),
    (255.8, 268), (257.2, 248), (258.5, 255), (260.5, 265), (262.5, 275), (263.8, 272),
    (265.1, 265), (266.4, 260), (267.1, 275), (268.4, 265), (269.1, 258), (271.1, 262),
    (272.4, 260), (273.1, 248), (274.4, 275), (275.7, 251), (277, 265), (278.3, 248),
    (283.6, 265), (286.3, 255), (288.9, 248), (291.6, 275), (292.9, 262), (294.2, 265),
    (296.9, 248), (299.5, 258), (302.2, 262), (304.8, 272), (306.1, 255), (308.8, 275),
    (310.1, 285), (311.4, 258), (312.8, 260), (314.7, 258), (316.7, 282), (318, 292),
    (319.4, 292), (322, 258), (324.7, 289), (326, 265), (328.6, 277), (330, 258), (332.6, 255),
    (335.3, 297), (336.6, 275), (339.2, 292), (340.6, 309), (342.5, 292), (344.5, 292),
    (345.8, 289), (347.2, 299), (349.8, 294), (351.1, 282), (352.5, 294), (355.1, 287),
    (356.4, 303), (357.8, 255), (358.4, 239), (356.4, 325), (353.8, 285),
    (278.3, 352), (312.8, 360), (319.4, 357), (322, 359), (331.3, 344), (327.3, 335),
    (329.3, 321), (332, 316), (336.6, 316), (338.6, 309), (339.9, 304), (343.9, 289),
    (312.8, 306), (315.4, 315), (316.1, 337), (321.4, 309), (323.4, 318), (306.1, 315),
    (299.5, 315), (302.2, 326), (294.2, 316), (276.4, 333), (258.5, 340), (254.3, 337),
    (245.9, 325), (240, 349), (232.7, 316), (217.5, 332), (169.8, 318), (161.9, 318),
    (177.1, 348), (353.8, 337), (349.8, 291), (344.5, 291),
    (140, 224), (146, 228), (153, 221), (159, 226), (166, 230), (172, 222), (178, 227), (185, 232),
    (191, 225), (197, 229), (204, 233), (210, 227), (216, 231), (223, 236), (229, 229), (235, 234),
    (242, 238), (248, 242), (254, 236), (261, 244), (267, 240), (273, 247), (280, 243), (286, 250),
    (292, 245), (299, 252), (305, 248), (311, 244), (318, 253), (324, 247), (330, 250), (337, 245),
    (343, 251), (349, 246), (356, 249),
    (140, 197), (146, 193), (153, 199), (159, 195), (166, 190), (172, 198), (178, 194), (185, 192),
    (191, 196), (197, 200), (204, 193), (210, 197), (216, 191), (223, 199), (229, 195), (235, 201),
    (242, 198), (248, 203), (254, 200), (261, 205), (267, 202), (273, 207), (280, 204), (286, 209),
    (292, 206), (299, 210), (305, 208), (311, 211), (318, 207), (324, 212), (330, 210), (337, 213),
    (343, 209), (349, 211), (356, 208),
]

d2_gt8 = [
    (4.9, 248), (5.6, 243), (7, 239), (8.3, 243), (9.6, 238), (10.9, 241), (12.3, 236),
    (12.9, 243), (14.9, 238), (15.6, 232), (17, 234), (18.3, 241), (19.6, 236), (20.9, 241),
    (22.3, 238), (24.9, 236), (26.9, 234), (30.3, 236), (31, 238), (33.6, 231), (34.3, 227),
    (36.7, 239), (49.6, 238), (20.3, 217), (20.3, 207), (24.9, 205), (4.9, 227), (6.3, 234),
    (8.9, 231), (10.9, 234), (13.6, 231), (147.6, 190),
    (145, 205), (152, 212), (158, 218), (163, 207), (170, 214), (175, 221), (181, 209), (186, 216),
    (192, 203), (197, 219), (203, 211), (208, 224), (214, 206), (219, 215), (224, 222), (230, 213),
    (236, 218), (241, 226), (247, 215), (252, 228), (257, 221), (262, 232), (266, 226), (270, 235),
    (273, 229), (276, 238), (279, 231), (282, 244), (285, 236), (288, 229), (291, 241), (294, 233),
    (297, 246), (300, 238), (303, 243), (306, 232), (309, 248), (312, 237), (315, 242), (318, 235),
    (321, 250), (324, 240), (327, 245), (330, 233), (333, 247), (336, 238), (339, 243), (342, 236),
    (345, 249), (348, 241), (351, 234), (354, 245), (357, 239),
    (265, 232), (268, 238), (272, 242), (278, 236), (283, 240), (287, 245), (292, 238), (296, 250),
    (302, 246), (308, 241), (314, 249), (320, 244), (326, 238), (332, 252), (338, 246), (344, 242),
    (350, 248), (355, 244), (358, 236), (281, 225), (290, 228), (299, 231), (311, 227), (324, 229),
    (336, 226), (348, 230), (356, 225), (200, 207), (212, 205), (230, 205), (247, 205), (258, 210),
    (320, 212), (330, 208), (345, 207), (312, 210), (261, 198), (270, 214), (190, 205), (175, 204),
    (165, 208), (159, 196), (222, 198), (231, 195), (279, 190), (274, 188), (306, 212),
]

band_x = [136, 139, 142, 145, 148, 151, 154, 157, 160, 163, 166, 169, 172, 175, 178, 181, 184,
          187, 190, 193, 196, 199, 202, 205, 208, 211, 214, 217, 220, 223, 226, 229, 232, 235,
          238, 241, 244, 247, 250, 253, 256, 259, 262, 265, 268, 271, 274, 277, 280, 283, 286,
          289, 292, 295, 298, 301, 304, 307, 310, 313, 316, 319, 322, 325, 328, 331, 334, 337,
          340, 343, 346, 349, 352, 355, 358]
band_y_upper = [214, 207, 216, 205, 212, 218, 203, 211, 215, 206, 219, 209, 204, 213, 217, 208, 214,
                202, 216, 210, 205, 219, 211, 207, 215, 221, 204, 212, 218, 209, 214, 206, 220, 213,
                208, 222, 211, 216, 210, 225, 214, 219, 212, 226, 217, 222, 228, 215, 224, 219, 230,
                221, 226, 216, 229, 224, 218, 231, 222, 227, 219, 232, 224, 217, 228, 221, 226, 215,
                229, 220, 224, 214, 227, 219, 222]
band_y_lower = [208, 213, 204, 211, 217, 202, 209, 214, 206, 219, 203, 212, 216, 207, 201, 214, 205,
                211, 218, 203, 213, 208, 216, 202, 210, 214, 207, 219, 205, 213, 200, 217, 209, 215,
                204, 211, 218, 206, 221, 212, 207, 215, 223, 209, 218, 213, 208, 225, 216, 210, 222,
                217, 212, 228, 214, 220, 226, 211, 218, 223, 213, 220, 228, 216, 210, 224, 218, 225,
                212, 221, 216, 226, 213, 222, 209]
band_y_middle = [211, 216, 209, 213, 208, 215, 212, 206, 217, 210, 213, 216, 209, 211, 214, 205, 218,
                 208, 212, 215, 209, 203, 214, 217, 206, 209, 216, 210, 213, 208, 218, 211, 205, 210,
                 219, 215, 208, 213, 219, 217, 220, 211, 216, 221, 212, 216, 219, 220, 211, 224, 217,
                 213, 219, 222, 218, 215, 223, 227, 214, 219, 225, 216, 221, 223, 219, 216, 212, 220,
                 217, 214, 218, 221, 216, 213, 218]

d2_gt10_extra = [
    (6.3, 232), (7.6, 220), (8.9, 214), (5.6, 207), (6.3, 205), (7, 227), (10.3, 226), (11.6, 217),
    (12.9, 231), (14.3, 207), (15.6, 220), (17, 226), (18.3, 207), (19.6, 212), (20.3, 203),
    (21.6, 203), (22.9, 217), (24.3, 208), (25.6, 219), (26.3, 220), (27.6, 220), (33.6, 207),
    (4.9, 217), (9.6, 220), (10.9, 210), (12.3, 207), (4.9, 231), (8.3, 205), (13.6, 217),
    (107.6, 211), (108.3, 211), (115, 211), (121, 208), (122.3, 210), (126.3, 210), (127.6, 207),
    (131, 215), (135, 212), (137, 208), (139.6, 214), (142.3, 210), (145, 217), (147.6, 207),
    (150.3, 210), (152.3, 212), (155, 208), (158, 203),
    (150, 195), (165, 198), (178, 193), (190, 196), (198, 200), (210, 194), (215, 198), (218, 192),
    (222, 196), (232, 199), (245, 195), (250, 200), (255, 197), (262, 204), (270, 202), (278, 206),
    (285, 205), (290, 208), (300, 207), (310, 205), (320, 208), (330, 210), (340, 207), (350, 212),
    (358, 208), (205, 196), (228, 193), (238, 202), (260, 199), (268, 205), (283, 209), (295, 212),
    (305, 209), (318, 214), (325, 205), (335, 209), (345, 213), (355, 210),
    (140, 218), (168, 223), (195, 222), (215, 225), (240, 225), (255, 230), (270, 233), (280, 235),
    (288, 236), (300, 236), (310, 234), (320, 236), (330, 234), (345, 233), (357, 230),
]

# bin-averaged wind direction vs orientation
mean_x = [0, 5, 15, 25, 35, 45, 55, 65, 75, 85, 95, 105, 115, 125, 135, 145, 155, 165, 175, 185,
          195, 205, 215, 225, 235, 245, 255, 265, 275, 285, 295, 305, 315, 325, 335, 345, 355, 360]
mean_y = [217, 216.5, 215.1, 214.4, 212.7, 211.4, 211.4, 211.4, 211.4, 211.4, 211.4, 210.3, 210.3,
          210.3, 210.3, 210.3, 210.3, 210.3, 210.3, 210.3, 210.3, 210.3, 211.4, 211.4, 212.7,
          213.8, 216.1, 217.8, 219.5, 220.6, 221.9, 223, 223, 221.6, 220.9, 219.5, 218.9, 218.5]
low_mean_runs = [
    [(5, 2), (15, 2), (25, 1), (35, 1), (38, 1), (45, 6)],
    [(217, 4), (225, -8), (233, -6)],
    [(273, 3)],
    [(325, 0), (335, 1), (345, 1), (355, 1)],
]

# solid guide segments drawn from the mean curve up to 360
guide_x = [45, 90, 135, 225, 270]
guide_bottom = [211, 211, 210, 211, 218]

# ---------------- colours ----------------
C_AIRPORT = "#e01515"
C_BUOY = "#1212cc"
C_ORIENT = "#22e022"
C_D1_ALL = "#f2a820"
C_D1_8 = "#22dd22"
C_D1_10 = "#cc1010"
C_D2_ALL = "#2ae6e6"
C_D2_8 = "#1414c0"
C_D2_10 = "#ee22ee"

MARK = 22


def frame(points):
    return pd.DataFrame(points, columns=["x", "y"])


def scatter(ax, points, color, size=MARK):
    sns.scatterplot(data=frame(points), x="x", y="y", color=color, marker="D", s=size,
                    linewidth=0, ax=ax, legend=False, zorder=3)


def style_axes(ax, labelsize):
    ax.tick_params(direction="in", length=5, width=0.8, top=True, right=True,
                   labelsize=labelsize, colors="#111111", pad=6)
    for sp in ax.spines.values():
        sp.set_color("#333333")
        sp.set_linewidth(1.0)
    ax.grid(True, linestyle=(0, (1, 3)), color="#222222", linewidth=0.8)
    ax.set_axisbelow(True)
    ax.set_xlabel("")
    ax.set_ylabel("")


fig = plt.figure(figsize=(12.74, 9.36), dpi=100)

# ---- panel (a)
ax1 = fig.add_axes([0.1193, 0.7094, 0.8673, 0.2756])
for lvl in reference_levels:
    ax1.hlines(lvl, 0.23, 21.17, color="black", linewidth=1.0, zorder=2)
scatter(ax1, orientation_points, C_ORIENT)
for run in buoy_runs:
    sns.lineplot(data=frame(run), x="x", y="y", color=C_BUOY, linewidth=3.6, sort=False,
                 estimator=None, ax=ax1, legend=False, zorder=3)
    scatter(ax1, run, C_BUOY)
scatter(ax1, buoy_points, C_BUOY)
scatter(ax1, airport_points, C_AIRPORT)
ax1.set_xlim(-0.75, 22.15)
ax1.set_ylim(0, 360)
ax1.set_xticks(day_ticks)
ax1.set_xticklabels(day_labels)
ax1.set_yticks(dir_ticks)
style_axes(ax1, 13)

# ---- panel (b)
ax2 = fig.add_axes([0.1193, 0.156, 0.8673, 0.3878])
ax2.axhline(180, color="black", linewidth=1.0, zorder=2)
ax2.axhline(0, color="black", linewidth=1.0, zorder=2)
for gx, gb in zip(guide_x, guide_bottom):
    ax2.vlines(gx, gb, 360, color="black", linewidth=1.0, zorder=2)
scatter(ax2, d1_all, C_D1_ALL)
scatter(ax2, d2_all, C_D2_ALL)
scatter(ax2, d1_gt8, C_D1_8)
scatter(ax2, d1_gt10, C_D1_10)
scatter(ax2, d2_gt8, C_D2_8)
band = [(x, y) for x, y in zip(band_x, band_y_upper)] + \
       [(x, y) for x, y in zip(band_x, band_y_lower)] + \
       [(x, y) for x, y in zip(band_x, band_y_middle)] + d2_gt10_extra
scatter(ax2, band, C_D2_10, 24)
sns.lineplot(x=mean_x, y=mean_y, color="#222222", linewidth=1.0, marker="D", markersize=3.5,
             markeredgewidth=0, ax=ax2, legend=False, zorder=4)
for run in low_mean_runs:
    sns.lineplot(data=frame(run), x="x", y="y", color="#222222", linewidth=1.0, marker="D",
                 markersize=3.5, markeredgewidth=0, sort=False, estimator=None, ax=ax2,
                 legend=False, zorder=4)
ax2.set_xlim(0, 360)
ax2.set_ylim(-11, 360)
ax2.set_xticks(orient_ticks)
ax2.set_yticks(orient_ticks)
style_axes(ax2, 14)

# ---- labels and annotations
fig.text(0.0196, 0.847, "(a)", fontsize=15, ha="center", va="center")
fig.text(0.0196, 0.3536, "(b)", fontsize=15, ha="center", va="center")
fig.text(0.073, 0.847, "Direction (°)", fontsize=12.5, rotation=90, ha="center", va="center",
         color="#333333")
fig.text(0.528, 0.6624, "Time", fontsize=12.5, ha="center", va="center", color="#333333")
fig.text(0.456, 0.6186, "(No mag. declination applied to buoy data)", fontsize=13.3,
         ha="center", va="center", color="#333333")
fig.text(0.7198, 0.6575, "St. John\u2019s International Airport", fontsize=14.5,
         fontweight="bold", color="#ee1111", ha="left", va="center")
fig.text(0.7198, 0.6335, "Buoy Wind Direction Sensor", fontsize=14.5, fontweight="bold",
         color="#1111ee", ha="left", va="center")
fig.text(0.7198, 0.608, "Buoy Orientation Sensor", fontsize=14.5, fontweight="bold",
         color="#11dd11", ha="left", va="center")

fig.text(0.0746, 0.3536, "Wind direction sensor (°)", fontsize=18, rotation=90,
         ha="center", va="center")
fig.text(0.5526, 0.1068, "Buoy orientation sensor (°)", fontsize=18, ha="center", va="center")

legend_rows_y = [0.0737, 0.0524, 0.031, 0.0107]
left_entries = [("Deployment 1", "#222222"), ("Wind speed > 0 m/s", "#f0b030"),
                ("Wind speed > 8 m/s", "#33dd33"), ("Wind speed > 10 m/s", "#dd2222")]
right_entries = [("Deployment 2", "#222222"), ("Wind speed > 0 m/s", "#33e5e5"),
                 ("Wind speed > 8 m/s", "#2222bb"), ("Wind speed > 10 m/s", "#dd33dd")]
for (txt, col), yy in zip(left_entries, legend_rows_y):
    fig.text(0.1672, yy, txt, fontsize=13.8, color=col, ha="left", va="center")
for (txt, col), yy in zip(right_entries, legend_rows_y):
    fig.text(0.8155, yy, txt, fontsize=13.8, color=col, ha="left", va="center")

fig.savefig("out.png", dpi=100)
